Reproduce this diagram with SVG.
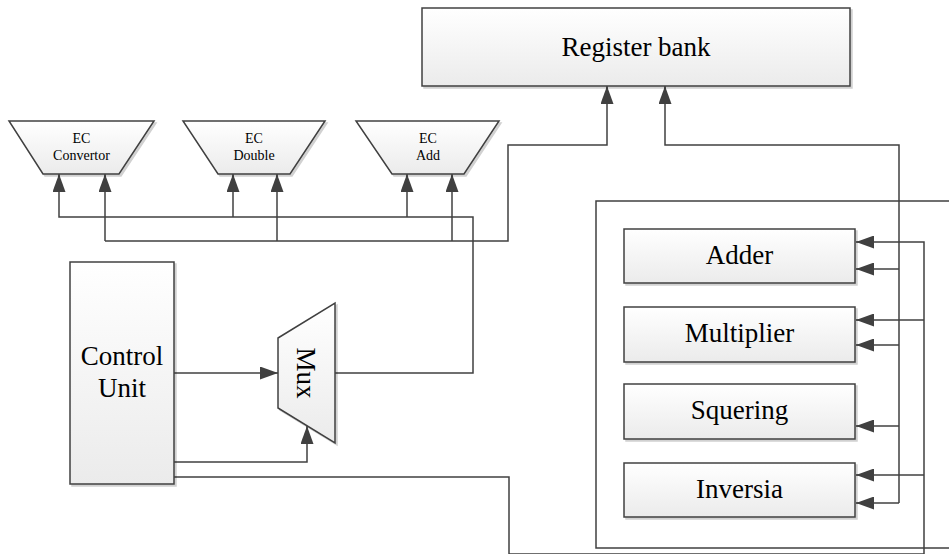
<svg xmlns="http://www.w3.org/2000/svg" width="949" height="554" viewBox="0 0 949 554">
<style>
.box{fill:url(#g);stroke:#404040;stroke-width:1.5;filter:url(#sh)}
.ln{fill:none;stroke:#404040;stroke-width:1.5}
.arr{marker-end:url(#ah)}
text{font-family:"Liberation Serif",serif;fill:#000}
.big{font-size:27px;text-anchor:middle}
.sm{font-size:14px;text-anchor:middle}
</style>
<defs>
<linearGradient id="g" x1="0" y1="0" x2="0" y2="1">
<stop offset="0" stop-color="#ffffff"/>
<stop offset="1" stop-color="#ebebeb"/>
</linearGradient>
<filter id="sh" x="-10%" y="-10%" width="130%" height="130%">
<feDropShadow dx="2" dy="2" stdDeviation="0.6" flood-color="#000" flood-opacity="0.18"/>
</filter>
<marker id="ah" markerUnits="userSpaceOnUse" markerWidth="18" markerHeight="13" viewBox="0 0 18 13" refX="18" refY="6.5" orient="auto">
<path d="M0,0 L18,6.5 L0,13 z" fill="#404040"/>
</marker>
</defs>

<g id="connectors">
<path class="ln" d="M949,201 H596 V548 H949"/>
<path class="ln arr" d="M335,373 H473 V217 H59 V174"/>
<path class="ln arr" d="M233,217 V174"/>
<path class="ln arr" d="M407,217 V174"/>
<path class="ln arr" d="M105,241 H508 V145 H607 V86"/>
<path class="ln arr" d="M105,241 V174"/>
<path class="ln arr" d="M277,241 V174"/>
<path class="ln arr" d="M452,241 V174"/>
<path class="ln arr" d="M899,503 V145 H665 V86"/>
<path class="ln arr" d="M899,269 H856"/>
<path class="ln arr" d="M899,345 H856"/>
<path class="ln arr" d="M899,426 H856"/>
<path class="ln arr" d="M899,503 H856"/>
<path class="ln arr" d="M174,477 H509 V554 H924 V242 H856"/>
<path class="ln arr" d="M924,320 H856"/>
<path class="ln arr" d="M924,475 H856"/>
<path class="ln arr" d="M174,373 H278"/>
<path class="ln arr" d="M174,462 H307 V426"/>
</g>

<g id="register-bank">
<rect class="box" x="422" y="8" width="428" height="78"/>
<text class="big" x="636" y="56" font-family="Liberation Serif">Register bank</text>
</g>

<g id="ec-convertor">
<polygon class="box" points="9,121 154,121 119,174 43,174"/>
<text class="sm" x="81.5" y="143">EC</text>
<text class="sm" x="81.5" y="160">Convertor</text>
</g>
<g id="ec-double">
<polygon class="box" points="183,121 325,121 290,174 218,174"/>
<text class="sm" x="254" y="143">EC</text>
<text class="sm" x="254" y="160">Double</text>
</g>
<g id="ec-add">
<polygon class="box" points="356,121 499,121 464,174 392,174"/>
<text class="sm" x="428" y="143">EC</text>
<text class="sm" x="428" y="160">Add</text>
</g>

<g id="control-unit">
<rect class="box" x="70" y="262" width="104" height="222"/>
<text class="big" x="122" y="365">Control</text>
<text class="big" x="122" y="397">Unit</text>
</g>

<g id="mux">
<polygon class="box" points="278,338 335,303 335,443 278,408"/>
<text class="big" transform="translate(297,373) rotate(90)">Mux</text>
</g>

<g id="adder">
<rect class="box" x="624" y="229" width="231" height="54"/>
<text class="big" x="739.5" y="264">Adder</text>
</g>
<g id="multiplier">
<rect class="box" x="624" y="307" width="231" height="55"/>
<text class="big" x="739.5" y="342">Multiplier</text>
</g>
<g id="squering">
<rect class="box" x="624" y="384" width="231" height="55"/>
<text class="big" x="739.5" y="419">Squering</text>
</g>
<g id="inversia">
<rect class="box" x="624" y="463" width="231" height="54"/>
<text class="big" x="739.5" y="498">Inversia</text>
</g>
</svg>
